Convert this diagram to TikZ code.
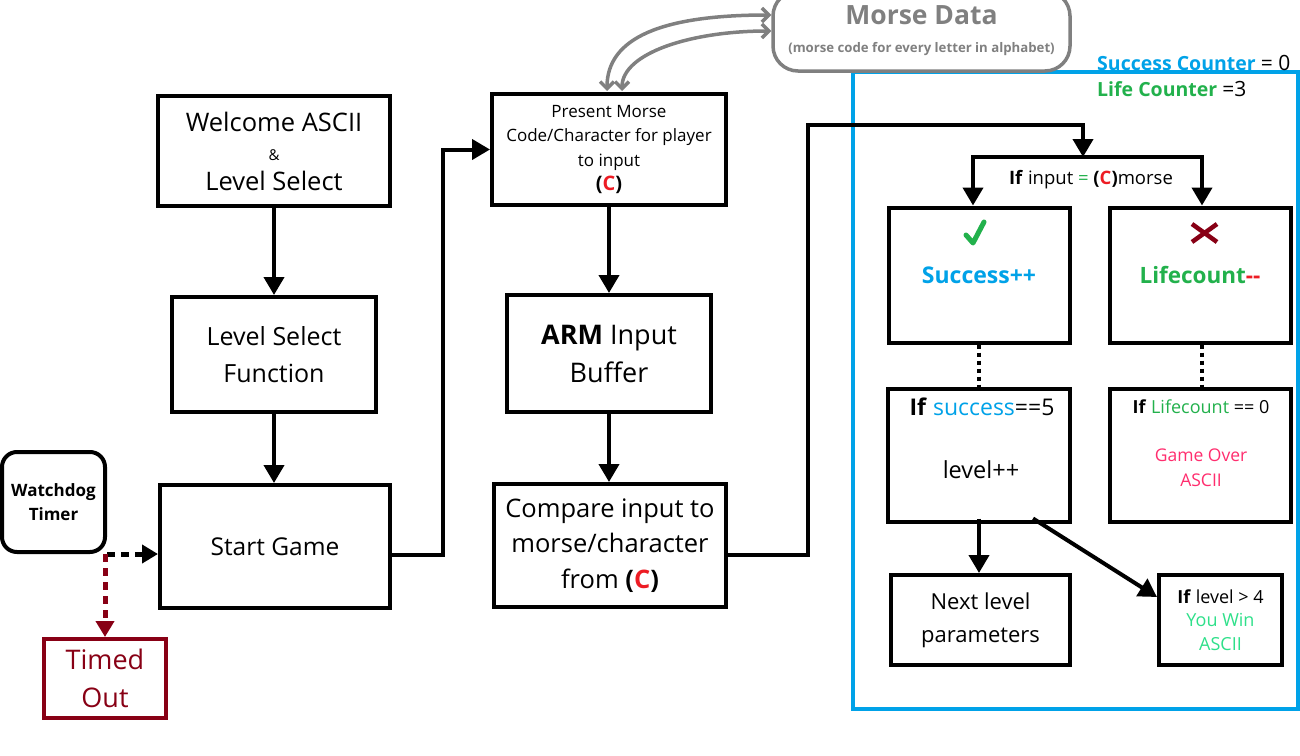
\documentclass[tikz,border=0pt]{standalone}
\usepackage{fontspec}
\setmainfont{Open Sans}
\usetikzlibrary{arrows.meta,calc}
\definecolor{pblue}{HTML}{00A2E8}
\definecolor{pgreen}{HTML}{22B14C}
\definecolor{pdred}{HTML}{880015}
\definecolor{pred}{HTML}{ED1C24}
\definecolor{ppink}{HTML}{FF2D6E}
\definecolor{pwin}{HTML}{2EE08A}
\definecolor{pgrey}{HTML}{808080}
\newcommand\fsz[2]{\fontsize{#1}{#2}\selectfont}
\begin{document}
\begin{tikzpicture}[x=1pt,y=-1pt,
  box/.style={draw=black,line width=4pt,inner sep=0pt,align=center,fill=white},
  arr/.style={line width=4pt,-{Triangle[length=18pt,width=20pt]}},
  dsh/.style={line width=5pt,dash pattern=on 8pt off 6pt,-{Triangle[length=16pt,width=18pt]}},
  dotline/.style={line width=4pt,dash pattern=on 4pt off 4pt},
  greyarr/.style={pgrey,line width=3.5pt,{Straight Barb[length=7pt,width=14pt]}-{Straight Barb[length=7pt,width=14pt]}},
  txt/.style={inner sep=0pt,align=center}]
\useasboundingbox (0,0) rectangle (1300,755);
\clip (0,0) rectangle (1300,755);

% blue frame
\node[draw=pblue,line width=4pt,minimum width=445pt,minimum height=637pt,inner sep=0pt] (frame) at (1075.5,390.5) {};

% counters
\node[inner sep=0pt,anchor=base west,font=\fsz{19.5}{22}] (sc) at (1097,70) {\textcolor{pblue}{\bfseries Success Counter} {\fsz{21}{22}= 0}};
\node[inner sep=0pt,anchor=base west,font=\fsz{19.5}{22}] (lc) at (1097,96) {\textcolor{pgreen}{\bfseries Life Counter} {\fsz{21}{22}=3}};

% Morse data
\node[draw=pgrey,line width=3.5pt,rounded corners=25pt,minimum width=297pt,minimum height=80pt,inner sep=0pt,align=center,text=pgrey,font=\fsz{26.5}{28}\bfseries] (morse) at (921.5,31)
  {Morse Data\\{\fsz{13.2}{28}\bfseries (morse code for every letter in alphabet)}};

% left column
\node[box,minimum width=232pt,minimum height=110pt,font=\fsz{25.5}{29.5}] (welcome) at (274,151)
  {Welcome ASCII\\{\fsz{15}{29.5}\&}\\Level Select};
\node[box,minimum width=204pt,minimum height=115pt,font=\fsz{25}{37}] (lsf) at (274,354.5)
  {Level Select\\Function};
\node[box,minimum width=230pt,minimum height=123pt,font=\fsz{24.5}{28}] (start) at (275,546.5)
  {Start Game};
\node[box,rounded corners=15pt,minimum width=103pt,minimum height=100pt,font=\fsz{17}{24}\bfseries] (watch) at (53.5,502)
  {Watchdog\\Timer};
\node[box,draw=pdred,text=pdred,minimum width=122pt,minimum height=79pt,font=\fsz{27}{38}] (timed) at (105,678.5)
  {Timed\\Out};

% middle column
\node[box,minimum width=234pt,minimum height=111pt,font=\fsz{17}{24.5}] (present) at (609,149.5)
  {Present Morse\\Code/Character for player\\to input\\{\fsz{20}{24.5}\bfseries (\textcolor{pred}{C})}};
\node[box,minimum width=204pt,minimum height=117pt,font=\fsz{27}{38}] (arm) at (609,353.5)
  {\textbf{ARM} Input\\Buffer};
\node[box,minimum width=232pt,minimum height=123pt,font=\fsz{25.5}{35.5}] (compare) at (610,545.5)
  {Compare input to\\morse/character\\from \textbf{(\textcolor{pred}{C})}};

% right column
\node[txt,font=\fsz{18.5}{20}] (cond) at (1091,180)
  {\textbf{If} input \textcolor{pgreen}{=} \textbf{(\textcolor{pred}{C})}morse};
\node[box,minimum width=181pt,minimum height=135pt,font=\fsz{23}{24}\bfseries] (succ) at (979,275)
  {\textcolor{pblue}{Success++}};
\node[box,minimum width=181pt,minimum height=135pt,font=\fsz{22.5}{24}\bfseries] (life) at (1200,275)
  {\textcolor{pgreen}{Lifecount}\textcolor{pred}{{-}{-}}};
\node[box,minimum width=182pt,minimum height=133pt] (ifsucc) at (979,455) {};
\node[txt,font=\fsz{23}{24}] (ifsucct) at (982,407) {\textbf{If} \textcolor{pblue}{success}==5};
\node[txt,font=\fsz{23.5}{24}] (ifsuccl) at (981,470) {level++};
\node[box,minimum width=181pt,minimum height=133pt] (iflife) at (1200.5,455) {};
\node[txt,font=\fsz{18}{20}] (iflifet) at (1201,407) {\textbf{If} \textcolor{pgreen}{Lifecount} == 0};
\node[txt,font=\fsz{17.5}{25},text=ppink] (iflifeg) at (1201,467.5) {Game Over\\ASCII};
\node[box,minimum width=179pt,minimum height=90pt,font=\fsz{22}{33}] (next) at (980.5,620)
  {Next level\\parameters};
\node[box,minimum width=123pt,minimum height=90pt,font=\fsz{18}{23.5}] (win) at (1220.5,620)
  {\textbf{If} level > 4\\\textcolor{pwin}{You Win}\\\textcolor{pwin}{ASCII}};

% check and cross
\draw[pgreen,line width=5pt,line cap=round,line join=round] (966,235) -- (973,243) -- (984,222);
\draw[pdred,line width=4.5pt] (1192,224) -- (1217,242) (1192,242) -- (1217,224);

% connectors
\draw[arr] (welcome.south) -- (lsf.north);
\draw[arr] (lsf.south) -- (lsf.south |- start.north);
\draw[arr] ([yshift=-8pt]start.east) -- ++(51,0) |- (present.west);
\draw[arr] (present.south) -- (arm.north);
\draw[arr] (arm.south) -- (arm.south |- compare.north);
\coordinate (c1) at (808,125);
\coordinate (split) at (1083,157);
\draw[arr] ([yshift=-9pt]compare.east) -| (c1) -| (split);
\draw[arr] (split) -| ([xshift=-6pt]succ.north);
\draw[arr] (split) -| ([xshift=2pt]life.north);
\draw[dotline] (succ.south) -- (ifsucc.north);
\draw[dotline] ([xshift=2pt]life.south) -- ([xshift=2pt]life.south |- iflife.north);
\draw[arr] ([yshift=5pt]ifsucc.south) -- (ifsucc.south |- next.north);
\draw[arr] ([xshift=54pt,yshift=5pt]ifsucc.south) -- ([yshift=23pt]win.west);
\draw[dsh] (watch.south east) -- (watch.south east -| start.west);
\draw[dsh,pdred] ([xshift=-2pt]watch.south east) -- ([xshift=-2pt]watch.south east |- timed.north);
\draw[greyarr] ([xshift=-2pt,yshift=1pt]present.north) .. controls +(0,-53) and +(-110,0) .. ([yshift=16pt]morse.west);
\draw[greyarr] ([xshift=13pt,yshift=1pt]present.north) .. controls +(0,-38) and +(-80,0) .. ([yshift=0pt]morse.west);
\end{tikzpicture}
\end{document}
